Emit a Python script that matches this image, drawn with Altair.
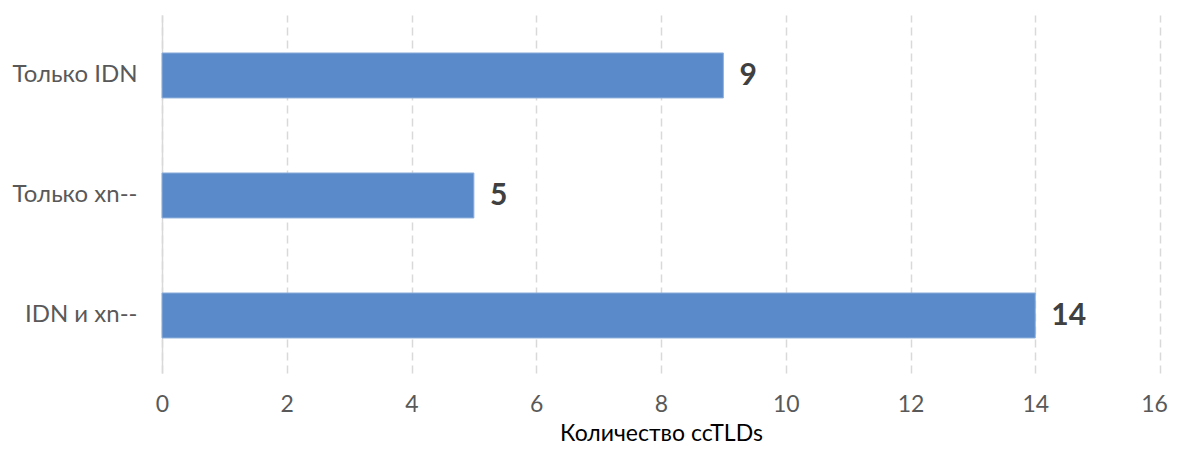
import altair as alt
import pandas as pd

categories = ["Только IDN", "Только xn--", "IDN и xn--"]
values = [9, 5, 14]
x_ticks = [0, 2, 4, 6, 8, 10, 12, 14, 16]

df = pd.DataFrame({"cat": categories, "val": values})

FONT = "Lato"

y_enc = alt.Y(
    "cat:N",
    sort=categories,
    title=None,
    scale=alt.Scale(paddingInner=0.625, paddingOuter=0.304, align=0.52),
    axis=alt.Axis(
        labelFont=FONT, labelFontSize=24, labelColor="#595959",
        labelPadding=25, ticks=False, domain=True, domainColor="#D9D9D9",
        domainWidth=1.5, grid=False, labelLimit=300,
    ),
)

x_enc = alt.X(
    "val:Q",
    title="Количество ccTLDs",
    scale=alt.Scale(domain=[0, 16], nice=False),
    axis=alt.Axis(
        values=x_ticks, format="d", labelFlush=False,
        labelOffset={"condition": {"test": "datum.value == 16", "value": -6}, "value": 0},
        labelFont=FONT, labelFontSize=23, labelColor="#595959",
        labelPadding=20, ticks=False, domain=False,
        grid=True, gridColor="#D9D9D9", gridDash=[8, 5], gridWidth=1.5,
        titleFont=FONT, titleFontSize=23, titleColor="#000000",
        titleFontWeight="normal", titleBaseline="alphabetic", titleY=67,
    ),
)

bars = alt.Chart(df).mark_bar(color="#5A8AC9", stroke="#8FB0DC", strokeWidth=1).encode(
    x=x_enc, y=y_enc
)

labels = alt.Chart(df).mark_text(
    align="left", baseline="middle", dx=16, dy=1,
    font=FONT, fontSize=30, fontWeight="bold", color="#404040",
).encode(
    x=alt.X("val:Q"), y=alt.Y("cat:N", sort=categories), text="val:Q"
)

chart = (
    alt.layer(bars, labels)
    .properties(
        width=998, height=358,
        background="white",
        autosize=alt.AutoSizeParams(type="none"),
        padding={"left": 154, "top": 7, "right": 9, "bottom": 72},
    )
    .configure_view(strokeWidth=0, stroke="transparent")
)

chart.save("out.html", embed_options={"renderer": "svg", "actions": False})
